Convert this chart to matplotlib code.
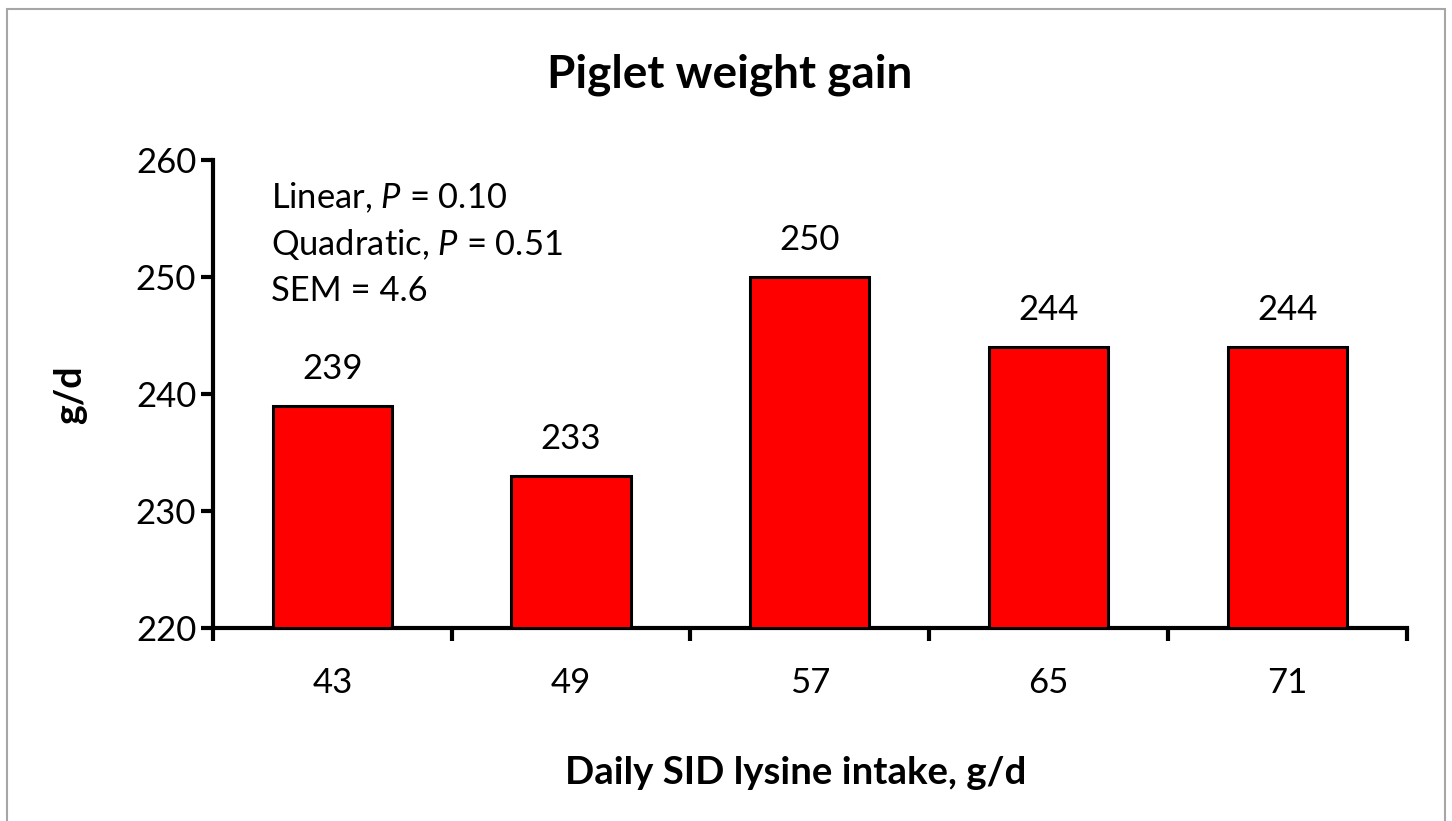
import matplotlib.pyplot as plt
from matplotlib.patches import Rectangle

# piglet weight gain by daily SID lysine intake
intake = ['43', '49', '57', '65', '71']
gain = [239, 233, 250, 244, 244]
stats_lines = ['Linear, $\\it{P}$ = 0.10', 'Quadratic, $\\it{P}$ = 0.51', 'SEM = 4.6']

plt.rcParams['font.family'] = ['Lato', 'DejaVu Sans']
plt.rcParams['mathtext.fontset'] = 'custom'
plt.rcParams['mathtext.it'] = 'Lato:italic'
plt.rcParams['mathtext.rm'] = 'Lato'

fig = plt.figure(figsize=(14.52, 8.21), dpi=100)
ax = fig.add_axes([0.1467, 0.2351, 0.822, 0.57])

pos = list(range(len(intake)))
ax.bar(pos, [g - 220 for g in gain], bottom=220, width=0.5,
       color='#ff0000', edgecolor='black', linewidth=2.2, zorder=3)

for p, g in zip(pos, gain):
    ax.text(p, g + 1.8, str(g), ha='center', va='bottom', fontsize=25)

ax.set_xlim(-0.5, 4.5)
ax.set_ylim(220, 260)
ax.set_yticks([220, 230, 240, 250, 260])
ax.set_xticks(pos)
ax.set_xticklabels(intake)
ax.set_xticks([p - 0.5 for p in pos] + [4.5], minor=True)
ax.tick_params(axis='x', which='major', length=0, pad=28, labelsize=25)
ax.tick_params(axis='x', which='minor', length=9, width=3, direction='out')
ax.tick_params(axis='y', length=9, width=3, direction='out', labelsize=25, pad=3)

for s in ['top', 'right']:
    ax.spines[s].set_visible(False)
for s in ['left', 'bottom']:
    ax.spines[s].set_linewidth(3)

fig.text(0.0482, 1 - 395 / 821, 'g/d', rotation=90, ha='center', va='center',
         fontsize=27, fontweight='bold')
fig.text(796 / 1452, 1 - 773 / 821, 'Daily SID lysine intake, g/d', ha='center', va='center',
         fontsize=27.6, fontweight='bold')
fig.text(730 / 1452, 1 - 75 / 821, 'Piglet weight gain', ha='center', va='center',
         fontsize=33, fontweight='bold')

for i, line in enumerate(stats_lines):
    ax.text(0.049, 0.92 - i * 0.1, line, transform=ax.transAxes,
            ha='left', va='center', fontsize=24.8)

fig.patches.append(Rectangle((0.0048, -0.01), 0.9905, 0.999, transform=fig.transFigure,
                             fill=False, edgecolor='#a6a6a6', linewidth=1.5))

fig.savefig('out.png', dpi=100)
